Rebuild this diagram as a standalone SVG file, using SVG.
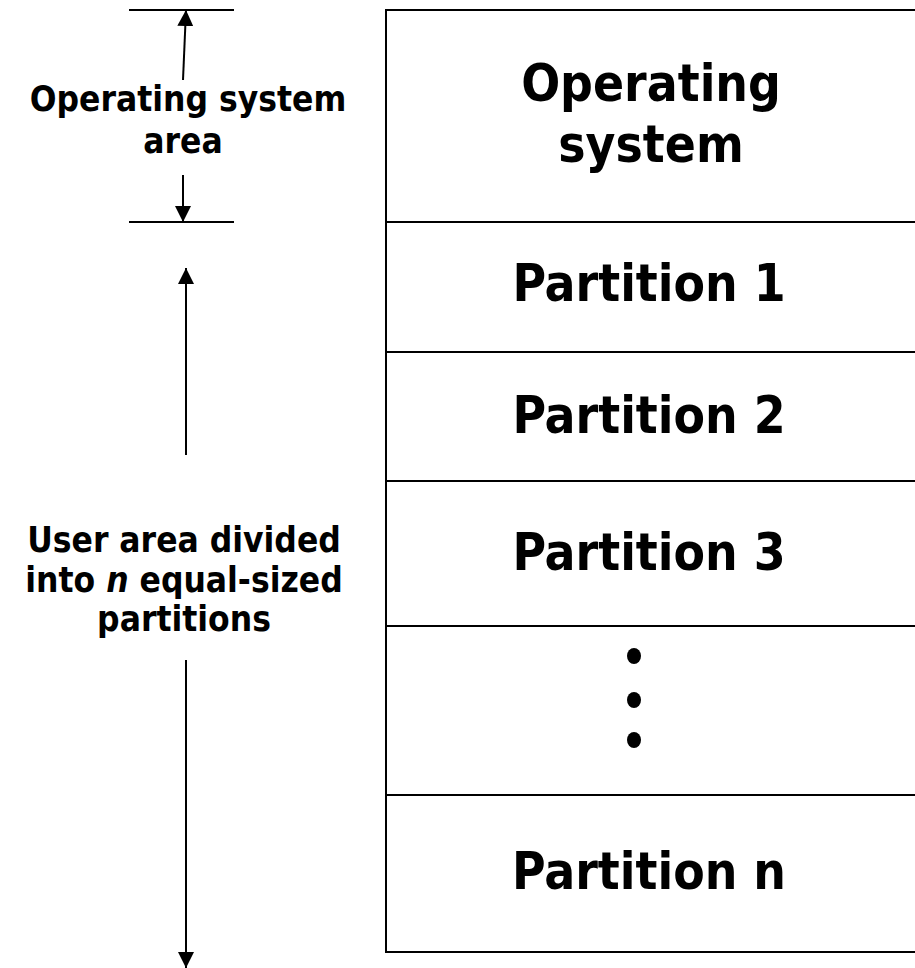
<svg xmlns="http://www.w3.org/2000/svg" width="915" height="968" viewBox="0 0 915 968">
<style>
.ln{stroke:#000;stroke-width:2;fill:none}
.big{font-family:"DejaVu Sans Condensed","DejaVu Sans",Verdana,sans-serif;font-stretch:condensed;font-weight:bold;font-size:51px;fill:#000;text-anchor:middle}
.lab{font-family:"DejaVu Sans Condensed","DejaVu Sans",Verdana,sans-serif;font-stretch:condensed;font-weight:bold;font-size:35px;fill:#000;text-anchor:middle}
</style>
<defs>
<marker id="ah" viewBox="0 0 16 16" refX="16" refY="8" markerWidth="16" markerHeight="16" markerUnits="userSpaceOnUse" orient="auto">
<path d="M0,0 L16,8 L0,16 Z" fill="#000"/>
</marker>
</defs>
<rect width="915" height="968" fill="#fff"/>
<g id="memory">
<rect x="386" y="10" width="560" height="942" class="ln"/>
</g>
<g id="os"><text class="big" x="651" y="101">Operating</text><text class="big" x="651" y="162">system</text></g>
<g id="p1"><line x1="386" y1="222" x2="915" y2="222" class="ln"/><text class="big" x="649" y="301">Partition 1</text></g>
<g id="p2"><line x1="386" y1="352" x2="915" y2="352" class="ln"/><text class="big" x="649" y="433">Partition 2</text></g>
<g id="p3"><line x1="386" y1="481" x2="915" y2="481" class="ln"/><text class="big" x="649" y="570">Partition 3</text></g>
<g id="dots"><line x1="386" y1="626" x2="915" y2="626" class="ln"/>
<ellipse cx="634" cy="656" rx="7" ry="8"/><ellipse cx="634" cy="700" rx="7" ry="8"/><ellipse cx="634" cy="740" rx="7" ry="8"/></g>
<g id="pn"><line x1="386" y1="795" x2="915" y2="795" class="ln"/><text class="big" x="649" y="889">Partition n</text></g>
<g id="os-label"><text class="lab" x="188" y="111">Operating system</text><text class="lab" x="183" y="153">area</text></g>
<g id="user-label"><text class="lab" x="184" y="552">User area divided</text><text class="lab" x="184" y="592">into <tspan font-style="italic">n</tspan> equal-sized</text><text class="lab" x="184" y="631">partitions</text></g>
<g id="connectors">
<line x1="129" y1="10" x2="234" y2="10" class="ln"/>
<line x1="129" y1="222" x2="234" y2="222" class="ln"/>
<line x1="183" y1="80" x2="186" y2="10" class="ln" marker-end="url(#ah)"/>
<line x1="183" y1="175" x2="183" y2="222" class="ln" marker-end="url(#ah)"/>
<line x1="186" y1="455" x2="186" y2="268" class="ln" marker-end="url(#ah)"/>
<line x1="186" y1="660" x2="186" y2="968" class="ln" marker-end="url(#ah)"/>
</g>
</svg>
